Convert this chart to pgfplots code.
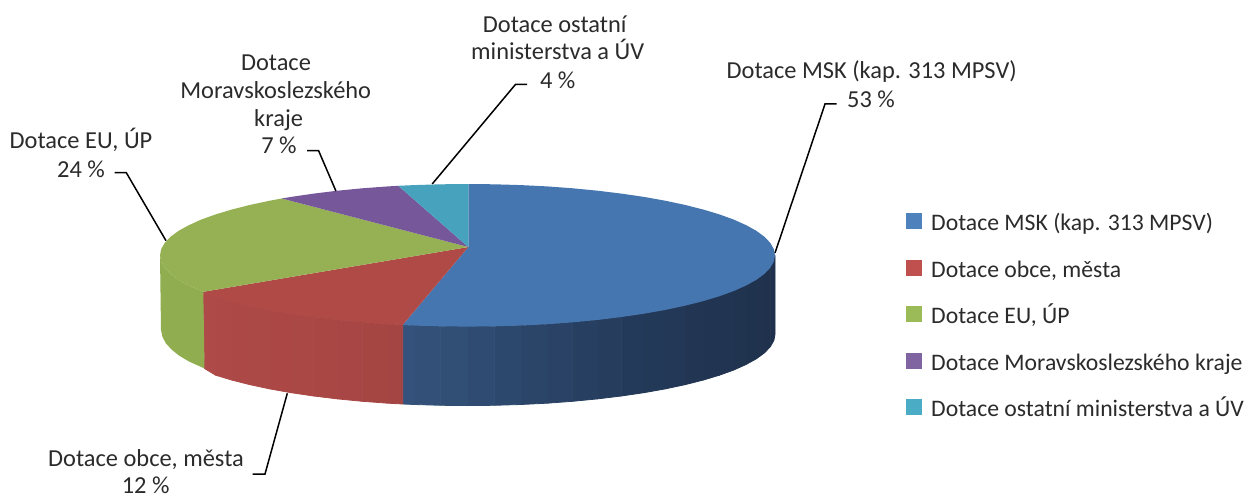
\documentclass[border=0pt]{standalone}
\usepackage{pgfplots}
\pgfplotsset{compat=1.18}
\usepgfplotslibrary{patchplots}
\usepackage{fontspec}
\setmainfont{Carlito}
\definecolor{tblue}{HTML}{4676B0}
\definecolor{tred}{HTML}{B04A47}
\definecolor{tgreen}{HTML}{95B153}
\definecolor{tpurple}{HTML}{76579A}
\definecolor{tteal}{HTML}{46A2BD}
\definecolor{sgreen}{HTML}{90AD50}
\definecolor{lblue}{HTML}{4F81BD}
\definecolor{lred}{HTML}{C0504D}
\definecolor{lgreen}{HTML}{9BBB59}
\definecolor{lpurple}{HTML}{8064A2}
\definecolor{lteal}{HTML}{4BACC6}
\definecolor{txt}{HTML}{2B2B2B}
\newcommand{\lab}[3]{\node[anchor=base,inner sep=0pt,text=txt,font=\fontsize{24.4}{28}\selectfont] at (axis cs:#1,#2) {#3};}
\newcommand{\leg}[2]{\node[anchor=base west,inner sep=0pt,text=txt] at (axis cs:931,#1) {#2};}
\begin{document}
\begin{tikzpicture}
\path[use as bounding box] (0,0) rectangle (1249pt,497pt);
\begin{axis}[
  at={(0,0)}, anchor=south west,
  scale only axis, width=1249pt, height=497pt,
  xmin=0, xmax=1249, ymin=0, ymax=497, y dir=reverse,
  axis lines=none, clip=false,
  font=\fontsize{23.7}{28}\selectfont,
]
% side of the blue slice
\addplot[patch, patch type=rectangle, shader=faceted, faceted color=mapped color, line width=0.8pt, point meta=x,
  point meta min=403, point meta max=775,
  colormap={bs}{rgb255=(64,98,146) rgb255=(56,88,131) rgb255=(46,74,112) rgb255=(36,58,90) rgb255=(31,49,76)}]
coordinates {
(775.0,255.3)(773.8,261.5)(773.8,340.5)(775.0,334.3)
(773.8,261.5)(770.3,267.7)(770.3,346.7)(773.8,340.5)
(770.3,267.7)(764.5,273.8)(764.5,352.8)(770.3,346.7)
(764.5,273.8)(756.5,279.7)(756.5,358.7)(764.5,352.8)
(756.5,279.7)(746.2,285.4)(746.2,364.4)(756.5,358.7)
(746.2,285.4)(733.8,291.0)(733.8,370.0)(746.2,364.4)
(733.8,291.0)(719.4,296.2)(719.4,375.2)(733.8,370.0)
(719.4,296.2)(703.1,301.1)(703.1,380.1)(719.4,375.2)
(703.1,301.1)(684.9,305.7)(684.9,384.7)(703.1,380.1)
(684.9,305.7)(665.2,309.9)(665.2,388.9)(684.9,384.7)
(665.2,309.9)(643.9,313.7)(643.9,392.7)(665.2,388.9)
(643.9,313.7)(621.3,317.0)(621.3,396.0)(643.9,392.7)
(621.3,317.0)(597.5,319.9)(597.5,398.9)(621.3,396.0)
(597.5,319.9)(572.7,322.3)(572.7,401.3)(597.5,398.9)
(572.7,322.3)(547.1,324.2)(547.1,403.2)(572.7,401.3)
(547.1,324.2)(520.9,325.5)(520.9,404.5)(547.1,403.2)
(520.9,325.5)(494.3,326.3)(494.3,405.3)(520.9,404.5)
(494.3,326.3)(467.5,326.6)(467.5,405.6)(494.3,405.3)
(467.5,326.6)(440.7,326.3)(440.7,405.3)(467.5,405.6)
(440.7,326.3)(414.1,325.5)(414.1,404.5)(440.7,405.3)
(414.1,325.5)(402.7,325.0)(402.7,404.0)(414.1,404.5)
};
% side of the red slice
\addplot[patch, patch type=rectangle, shader=faceted, faceted color=mapped color, line width=0.8pt, point meta=x,
  point meta min=205, point meta max=403,
  colormap={rs}{rgb255=(174,74,71) rgb255=(148,60,59)}]
coordinates {
(402.7,325.0)(387.9,324.2)(387.9,403.2)(402.7,404.0)
(387.9,324.2)(362.3,322.3)(362.3,401.3)(387.9,403.2)
(362.3,322.3)(337.5,319.9)(337.5,398.9)(362.3,401.3)
(337.5,319.9)(313.7,317.0)(313.7,396.0)(337.5,398.9)
(313.7,317.0)(291.1,313.7)(291.1,392.7)(313.7,396.0)
(291.1,313.7)(269.8,309.9)(269.8,388.9)(291.1,392.7)
(269.8,309.9)(250.1,305.7)(250.1,384.7)(269.8,388.9)
(250.1,305.7)(231.9,301.1)(231.9,380.1)(250.1,384.7)
(231.9,301.1)(215.6,296.2)(215.6,375.2)(231.9,380.1)
(215.6,296.2)(203.3,291.8)(204.5,368.5)(215.6,375.2)
};
% side of the green slice
\addplot[draw=none, fill=sgreen] coordinates {
(203.3,291.8)(201.2,291.0)(188.8,285.4)(178.5,279.7)(170.5,273.8)(164.7,267.7)(161.2,261.5)(160.0,255.3)
(161.0,330.0)(162.5,337.0)(166.0,343.5)(171.5,349.5)(179.0,355.5)(189.0,361.5)(201.2,367.0)(204.5,368.5)
} --cycle;
% top faces
\addplot[draw=none, fill=tblue] coordinates {
(468.3,247)(468.3,184.0)(494.3,184.3)(520.9,185.1)(547.1,186.4)(572.7,188.3)(597.5,190.7)(621.3,193.6)
(643.9,196.9)(665.2,200.7)(684.9,204.9)(703.1,209.5)(719.4,214.4)(733.8,219.6)(746.2,225.2)(756.5,230.9)
(764.5,236.8)(770.3,242.9)(773.8,249.1)(775.0,255.3)(773.8,261.5)(770.3,267.7)(764.5,273.8)(756.5,279.7)
(746.2,285.4)(733.8,291.0)(719.4,296.2)(703.1,301.1)(684.9,305.7)(665.2,309.9)(643.9,313.7)(621.3,317.0)
(597.5,319.9)(572.7,322.3)(547.1,324.2)(520.9,325.5)(494.3,326.3)(467.5,326.6)(440.7,326.3)(414.1,325.5)
(402.7,325.0)
} --cycle;
\addplot[draw=none, fill=tred] coordinates {
(468.3,247)(402.7,325.0)(387.9,324.2)(362.3,322.3)(337.5,319.9)(313.7,317.0)(291.1,313.7)(269.8,309.9)
(250.1,305.7)(231.9,301.1)(215.6,296.2)(203.3,291.8)
} --cycle;
\addplot[draw=none, fill=tgreen] coordinates {
(468.3,247)(203.3,291.8)(201.2,291.0)(188.8,285.4)(178.5,279.7)(170.5,273.8)(164.7,267.7)(161.2,261.5)
(160.0,255.3)(161.2,249.1)(164.7,242.9)(170.5,236.8)(178.5,230.9)(188.8,225.2)(201.2,219.6)(215.6,214.4)
(231.9,209.5)(250.1,204.9)(269.8,200.7)(281.7,198.5)
} --cycle;
\addplot[draw=none, fill=tpurple] coordinates {
(468.3,247)(281.7,198.5)(291.1,196.9)(313.7,193.6)(337.5,190.7)(362.3,188.3)(387.9,186.4)(398.3,185.8)
} --cycle;
\addplot[draw=none, fill=tteal] coordinates {
(468.3,247)(398.3,185.8)(414.1,185.1)(440.7,184.3)(468.3,184.0)
} --cycle;
% leader lines
\addplot[black, line width=1.5pt, no marks] coordinates {(836.7,104)(825,104)(775,253)};
\addplot[black, line width=1.5pt, no marks] coordinates {(527,84.3)(515.6,84.3)(432.2,184)};
\addplot[black, line width=1.5pt, no marks] coordinates {(307,150.7)(318.6,150.7)(335.9,191)};
\addplot[black, line width=1.5pt, no marks] coordinates {(114.5,172.7)(126.3,172.7)(166,240.7)};
\addplot[black, line width=1.5pt, no marks] coordinates {(252.7,474)(265,474)(287.3,393.3)};
% legend keys
\addplot[draw=none, fill=lblue] coordinates {(906,213)(922,213)(922,229)(906,229)} --cycle;
\addplot[draw=none, fill=lred] coordinates {(906,260)(922,260)(922,276)(906,276)} --cycle;
\addplot[draw=none, fill=lgreen] coordinates {(906,306)(922,306)(922,322)(906,322)} --cycle;
\addplot[draw=none, fill=lpurple] coordinates {(906,353)(922,353)(922,369)(906,369)} --cycle;
\addplot[draw=none, fill=lteal] coordinates {(906,399)(922,399)(922,415)(906,415)} --cycle;
\leg{230}{Dotace MSK (kap. 313 MPSV)}
\leg{277}{Dotace obce, města}
\leg{323}{Dotace EU, ÚP}
\leg{370}{Dotace Moravskoslezského kraje}
\leg{416}{Dotace ostatní ministerstva a ÚV}
% data labels
\lab{871.7}{78.3}{Dotace MSK (kap. 313 MPSV)}
\lab{871}{107.3}{53 \%}
\lab{554.7}{32.3}{Dotace ostatní}
\lab{557.7}{60}{ministerstva a ÚV}
\lab{557.7}{88.3}{4 \%}
\lab{276}{71}{Dotace}
\lab{275.7}{99}{Moravskoslezského}
\lab{278.6}{126.7}{kraje}
\lab{279}{154}{7 \%}
\lab{81}{149}{Dotace EU, ÚP}
\lab{81}{177.3}{24 \%}
\lab{146}{466}{Dotace obce, města}
\lab{145.7}{493.5}{12 \%}
\end{axis}
\end{tikzpicture}
\end{document}
